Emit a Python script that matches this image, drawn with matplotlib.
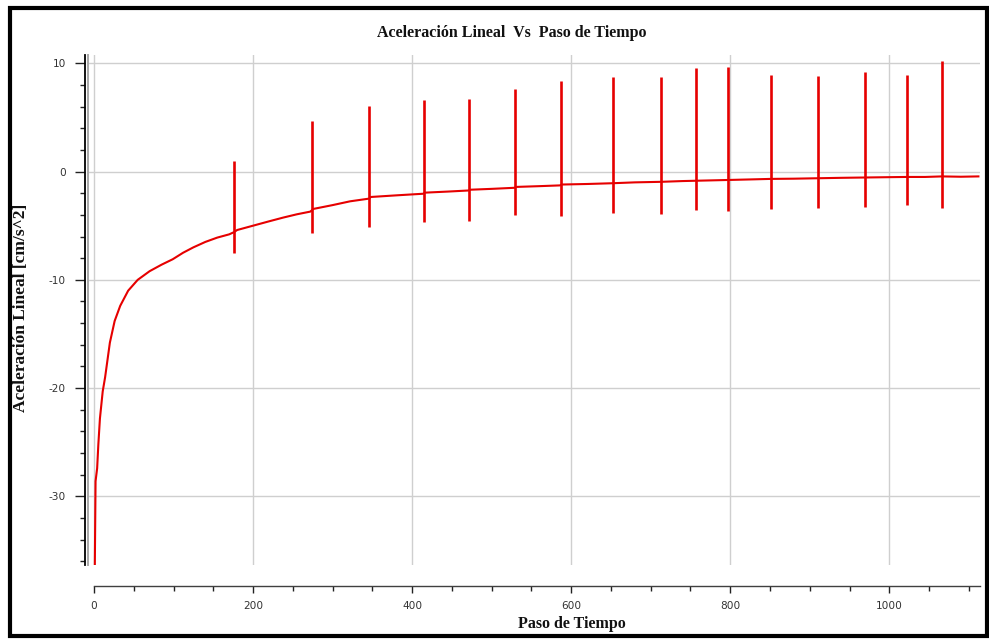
import matplotlib
matplotlib.use("Agg")
import matplotlib.pyplot as plt
from matplotlib.patches import Rectangle
from matplotlib.ticker import MultipleLocator

plt.rcParams["axes.unicode_minus"] = False

# Smooth response of the sensor (time step vs. linear acceleration)
paso = [1, 2, 4, 5.5, 7.5, 11, 14, 20, 26, 33, 43, 55, 70, 85, 99, 112, 125,
        140, 155, 170, 176, 180, 200, 220, 238, 255, 272, 276, 300, 322, 346,
        348, 380, 414, 416, 445, 471, 473, 500, 529, 531, 560, 586, 588, 620,
        652, 680, 713, 740, 757, 797, 830, 851, 880, 910, 940, 970, 1000,
        1022, 1045, 1066, 1090, 1112]
aceleracion = [-37.0, -28.6, -27.4, -25.2, -22.8, -20.3, -19.0, -15.8, -13.8,
               -12.4, -11.0, -10.0, -9.2, -8.6, -8.1, -7.5, -7.0, -6.5, -6.1,
               -5.8, -5.6, -5.4, -5.0, -4.6, -4.25, -3.95, -3.7, -3.45, -3.1,
               -2.75, -2.5, -2.35, -2.2, -2.05, -1.95, -1.85, -1.75, -1.68,
               -1.6, -1.5, -1.42, -1.35, -1.28, -1.2, -1.15, -1.08, -1.0,
               -0.95, -0.88, -0.85, -0.78, -0.72, -0.68, -0.66, -0.62, -0.58,
               -0.55, -0.52, -0.5, -0.5, -0.45, -0.48, -0.45]

# Impulse peaks
pico_paso = [176, 274, 346, 415, 472, 529, 587, 652, 713, 757, 797, 851, 910,
             970, 1022, 1066]
pico_max = [0.97, 4.66, 6.08, 6.60, 6.69, 7.59, 8.36, 8.73, 8.73, 9.56, 9.65,
            8.91, 8.82, 9.16, 8.91, 10.23]
pico_min = [-7.53, -5.65, -5.12, -4.66, -4.57, -4.02, -4.11, -3.83, -3.92,
            -3.55, -3.65, -3.46, -3.37, -3.25, -3.09, -3.40]

W, H = 989, 639
fig = plt.figure(figsize=(W / 100, H / 100), dpi=100)
ax = fig.add_axes([88 / W, 1 - 565 / H, (980 - 88) / W, (565 - 55) / H])

rojo = "#e60000"
ax.plot(paso, aceleracion, color=rojo, lw=1.5, zorder=3, clip_on=True)
ax.vlines(pico_paso, pico_min, pico_max, color=rojo, lw=1.9, zorder=3)

ax.set_xlim(-7.5, 1114)
ax.set_ylim(-36.33, 10.76)

ax.xaxis.set_major_locator(MultipleLocator(200))
ax.xaxis.set_minor_locator(MultipleLocator(50))
ax.yaxis.set_major_locator(MultipleLocator(10))
ax.yaxis.set_minor_locator(MultipleLocator(2))

ax.grid(True, which="major", color="#cfcfcf", lw=1.0, zorder=0)

for s in ("top", "right"):
    ax.spines[s].set_visible(False)
ax.spines["left"].set_position(("outward", 2))
ax.spines["left"].set_color("black")
ax.spines["left"].set_linewidth(1.3)
ax.spines["bottom"].set_position(("outward", 15))
ax.spines["bottom"].set_bounds(0, 1114)
ax.spines["bottom"].set_color("#404040")
ax.spines["bottom"].set_linewidth(1.0)

# gray frame line along the plot area's left edge
ax.plot([0, 0], [0, 1], transform=ax.transAxes, color="#a8a8a8", lw=1.4,
        clip_on=False, zorder=2)

ax.tick_params(axis="y", which="major", length=7, width=1.0, color="#222222",
               labelsize=7.6, labelcolor="#333333", pad=7)
ax.tick_params(axis="y", which="minor", length=3.5, width=1.0, color="#222222")
ax.tick_params(axis="x", which="major", length=5, width=1.0, color="#222222",
               labelsize=7.6, labelcolor="#333333", pad=6)
ax.tick_params(axis="x", which="minor", length=3.5, width=1.0, color="#222222")

serif = ["Liberation Serif", "DejaVu Serif"]
fig.text(512 / W, 1 - 33 / H, "Aceleración Lineal  Vs  Paso de Tiempo",
         ha="center", va="center", fontsize=11.5, fontweight="bold",
         family=serif, color="#111111")
fig.text(21 / W, 1 - 308 / H, "Aceleración Lineal [cm/s^2]", rotation=90,
         ha="center", va="center", fontsize=12.5, fontweight="bold",
         family=serif, color="#111111")
fig.text(572 / W, 1 - 624 / H, "Paso de Tiempo", ha="center", va="center",
         fontsize=11.5, fontweight="bold", family=serif, color="#111111")

# outer black frame
fig.patches.append(Rectangle((10 / W, 3 / H), 977 / W, 628 / H,
                             transform=fig.transFigure, fill=False,
                             edgecolor="black", lw=3.0, zorder=10))

fig.savefig("out.png", dpi=100)
